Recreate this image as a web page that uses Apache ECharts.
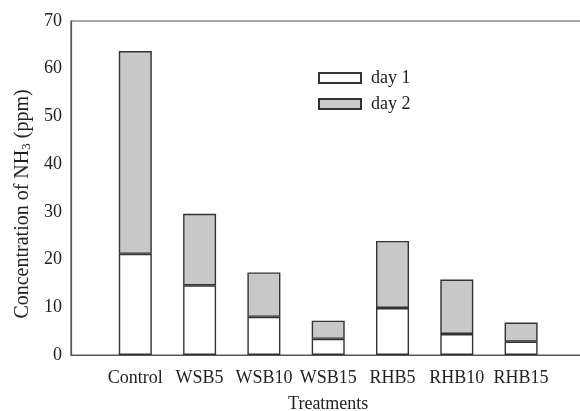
<!DOCTYPE html>
<html>
<head>
<meta charset="utf-8">
<script src="https://cdn.jsdelivr.net/npm/echarts@6/dist/echarts.min.js"></script>
<style>html,body{margin:0;padding:0;background:#fff;}#c{width:580px;height:411px;}</style>
</head>
<body>
<div id="c"></div>
<script>
var categories = ['', 'Control', 'WSB5', 'WSB10', 'WSB15', 'RHB5', 'RHB10', 'RHB15', ''];
var day1 = ['-', 21.2, 14.6, 8.0, 3.4, 9.85, 4.4, 2.8, '-'];
var day2 = ['-', 42.5, 15.0, 9.3, 3.8, 14.05, 11.4, 4.0, '-'];
var yTicks = [0, 10, 20, 30, 40, 50, 60, 70];

var font = 'Liberation Serif, Times New Roman, serif';
var chart = echarts.init(document.getElementById('c'), null, {renderer: 'canvas'});
chart.setOption({
  animation: false,
  backgroundColor: '#fff',
  grid: {left: 71, top: 21, width: 514.4, height: 334, show: true, borderColor: '#555', borderWidth: 1.2,
         backgroundColor: 'transparent', outerBoundsMode: 'none', containLabel: false},
  legend: {
    orient: 'vertical', left: 313, top: 64, itemWidth: 42, itemHeight: 10, itemGap: 8, icon: 'rect',
    textStyle: {fontFamily: font, fontSize: 18, color: '#222', padding: [0, 0, 0, 5]},
    data: ['day 1', 'day 2']
  },
  xAxis: {
    type: 'category', data: categories, boundaryGap: false,
    axisLine: {lineStyle: {color: '#555', width: 1.2}},
    axisTick: {show: false},
    axisLabel: {interval: 0, fontFamily: font, fontSize: 18, color: '#222', margin: 14},
    name: 'Treatments', nameLocation: 'middle', nameGap: 40,
    nameTextStyle: {fontFamily: font, fontSize: 18, color: '#222'}
  },
  yAxis: {
    type: 'value', min: yTicks[0], max: yTicks[yTicks.length - 1], interval: 10,
    axisLine: {show: true, lineStyle: {color: '#555', width: 1.2}},
    axisTick: {show: false},
    splitLine: {show: false},
    axisLabel: {fontFamily: font, fontSize: 18, color: '#222', margin: 9},
    name: 'Concentration of NH{sub|3} (ppm)', nameLocation: 'middle', nameGap: 35,
    nameTextStyle: {fontFamily: font, fontSize: 20, color: '#222', padding: [0, 32, 0, 0],
      rich: {sub: {fontFamily: font, fontSize: 13, color: '#222', verticalAlign: 'bottom', padding: [7, 0, 0, 0]}}}
  },
  series: [
    {name: 'day 1', type: 'bar', stack: 's', data: day1, barWidth: 33,
     itemStyle: {color: '#ffffff', borderColor: '#333', borderWidth: 1.4}},
    {name: 'day 2', type: 'bar', stack: 's', data: day2, barWidth: 33,
     itemStyle: {color: '#c8c8c8', borderColor: '#333', borderWidth: 1.4}}
  ]
});
</script>
</body>
</html>
